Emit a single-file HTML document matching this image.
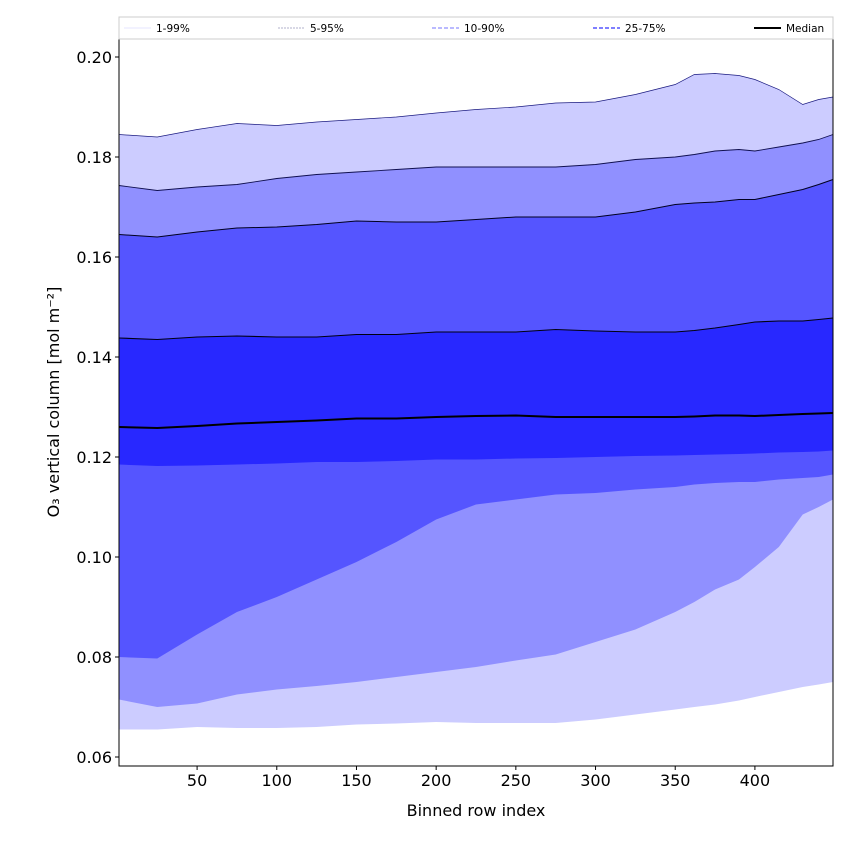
<!DOCTYPE html>
<html><head><meta charset="utf-8"><style>
body{margin:0;background:#fff;font-family:"Liberation Sans","DejaVu Sans",sans-serif;}
svg text{font-family:"DejaVu Sans","Liberation Sans",sans-serif;}
</style></head><body>
<svg id="chart" width="850" height="850" xmlns="http://www.w3.org/2000/svg">
<rect width="850" height="850" fill="#fff"/>
<g id="plot"></g>
</svg>
<script>
const xs   = [1,25,50,75,100,125,150,175,200,225,250,275,300,325,350,362,375,390,400,415,430,440,449];
const p99  = [0.1845,0.1840,0.1855,0.1867,0.1863,0.1870,0.1875,0.1880,0.1888,0.1895,0.1900,0.1908,0.1910,0.1925,0.1945,0.1965,0.1967,0.1963,0.1955,0.1935,0.1905,0.1915,0.1920];
const p95  = [0.1743,0.1733,0.1740,0.1745,0.1757,0.1765,0.1770,0.1775,0.1780,0.1780,0.1780,0.1780,0.1785,0.1795,0.1800,0.1805,0.1812,0.1815,0.1812,0.1820,0.1828,0.1835,0.1845];
const p90  = [0.1645,0.1640,0.1650,0.1658,0.1660,0.1665,0.1672,0.1670,0.1670,0.1675,0.1680,0.1680,0.1680,0.1690,0.1705,0.1708,0.1710,0.1715,0.1715,0.1725,0.1735,0.1745,0.1755];
const p75  = [0.1438,0.1435,0.1440,0.1442,0.1440,0.1440,0.1445,0.1445,0.1450,0.1450,0.1450,0.1455,0.1452,0.1450,0.1450,0.1453,0.1458,0.1465,0.1470,0.1472,0.1472,0.1475,0.1478];
const p50  = [0.1260,0.1258,0.1262,0.1267,0.1270,0.1273,0.1277,0.1277,0.1280,0.1282,0.1283,0.1280,0.1280,0.1280,0.1280,0.1281,0.1283,0.1283,0.1282,0.1284,0.1286,0.1287,0.1288];
const p25  = [0.1185,0.1182,0.1183,0.1185,0.1187,0.1190,0.1190,0.1192,0.1195,0.1195,0.1197,0.1198,0.1200,0.1202,0.1203,0.1204,0.1205,0.1206,0.1207,0.1209,0.1210,0.1211,0.1213];
const p10  = [0.0800,0.0797,0.0845,0.0890,0.0920,0.0955,0.0990,0.1030,0.1075,0.1105,0.1115,0.1125,0.1128,0.1135,0.1140,0.1145,0.1148,0.1150,0.1150,0.1155,0.1158,0.1160,0.1165];
const p5   = [0.0715,0.0700,0.0707,0.0725,0.0735,0.0742,0.0750,0.0760,0.0770,0.0780,0.0793,0.0805,0.0830,0.0855,0.0890,0.0910,0.0935,0.0955,0.0980,0.1020,0.1085,0.1100,0.1115];
const p1   = [0.0655,0.0655,0.0660,0.0658,0.0658,0.0660,0.0665,0.0667,0.0670,0.0668,0.0668,0.0668,0.0675,0.0685,0.0695,0.0700,0.0705,0.0713,0.0720,0.0730,0.0740,0.0745,0.0750];
const xTicks = [50,100,150,200,250,300,350,400];
const yTicks = [0.06,0.08,0.10,0.12,0.14,0.16,0.18,0.20];

const L=119,R=833,T=39,B=766;
const xmin=1,xmax=449,ymin=0.0582,ymax=0.2036;
const X=v=>L+(v-xmin)/(xmax-xmin)*(R-L);
const Y=v=>B-(v-ymin)/(ymax-ymin)*(B-T);
const NS='http://www.w3.org/2000/svg';
const g=document.getElementById('plot');
function mk(tag,attrs,parent){const e=document.createElementNS(NS,tag);for(const k in attrs)e.setAttribute(k,attrs[k]);(parent||g).appendChild(e);return e;}
function band(lo,hi,fill,name){
  let d='M'+xs.map((x,i)=>X(x)+','+Y(hi[i])).join('L');
  for(let i=xs.length-1;i>=0;i--)d+='L'+X(xs[i])+','+Y(lo[i]);
  const p=mk('path',{d:d+'Z',fill:fill});
  
  
}
function line(arr,stroke,w,name){
  const p=mk('path',{d:'M'+xs.map((x,i)=>X(x)+','+Y(arr[i])).join('L'),fill:'none',stroke:stroke,'stroke-width':w});
  
  
}
band(p1,p99,'#ccccff','band-1-99');
band(p5,p95,'#9090ff','band-5-95');
band(p10,p90,'#5555ff','band-10-90');
band(p25,p75,'#2828ff','band-25-75');
line(p99,'#1a1a80',0.7,'line-p99');
line(p95,'#101050',0.9,'line-p95');
line(p90,'#000020',1,'line-p90');
line(p75,'#000010',1.1,'line-p75');
line(p50,'#000',2,'median-line');
mk('rect',{x:L,y:T,width:R-L,height:B-T,fill:'none',stroke:'#000','stroke-width':1});
xTicks.forEach(v=>{
  mk('line',{x1:X(v),x2:X(v),y1:B,y2:B+4,stroke:'#000'});
  const t=mk('text',{x:X(v),y:B+20,'text-anchor':'middle','font-size':16});
  t.textContent=v;
  
  
});
yTicks.forEach(v=>{
  mk('line',{x1:L-4,x2:L,y1:Y(v),y2:Y(v),stroke:'#000'});
  const t=mk('text',{x:L-7,y:Y(v)+6,'text-anchor':'end','font-size':16});
  t.textContent=v.toFixed(2);
  
  
});
const xt=mk('text',{x:(L+R)/2,y:816,'text-anchor':'middle','font-size':16});
xt.textContent='Binned row index';


const yt=mk('text',{x:0,y:0,'text-anchor':'middle','font-size':16,transform:'translate(59,402) rotate(-90)'});
yt.textContent='O₃ vertical column [mol m⁻²]';


// legend
const lg=mk('g',{});


mk('rect',{x:119,y:17,width:714,height:22,fill:'#fff',stroke:'#ccc','stroke-width':1},lg);
const entries=[['1-99%',124,'#ddddff',0.8,''],['5-95%',278,'#9999bb',0.8,'2,1'],['10-90%',432,'#9090ff',1.2,'4,2'],['25-75%',593,'#5555ff',1.5,'4,2'],['Median',754,'#000',2,'']];
entries.forEach(e=>{
  const eg=mk('g',{},lg);
  
  
  const a={x1:e[1],x2:e[1]+27,y1:28,y2:28,stroke:e[2],'stroke-width':e[3]};
  if(e[4])a['stroke-dasharray']=e[4];
  mk('line',a,eg);
  const t=mk('text',{x:e[1]+32,y:32,'font-size':10.5},eg);
  t.textContent=e[0];
});
</script>
</body></html>
